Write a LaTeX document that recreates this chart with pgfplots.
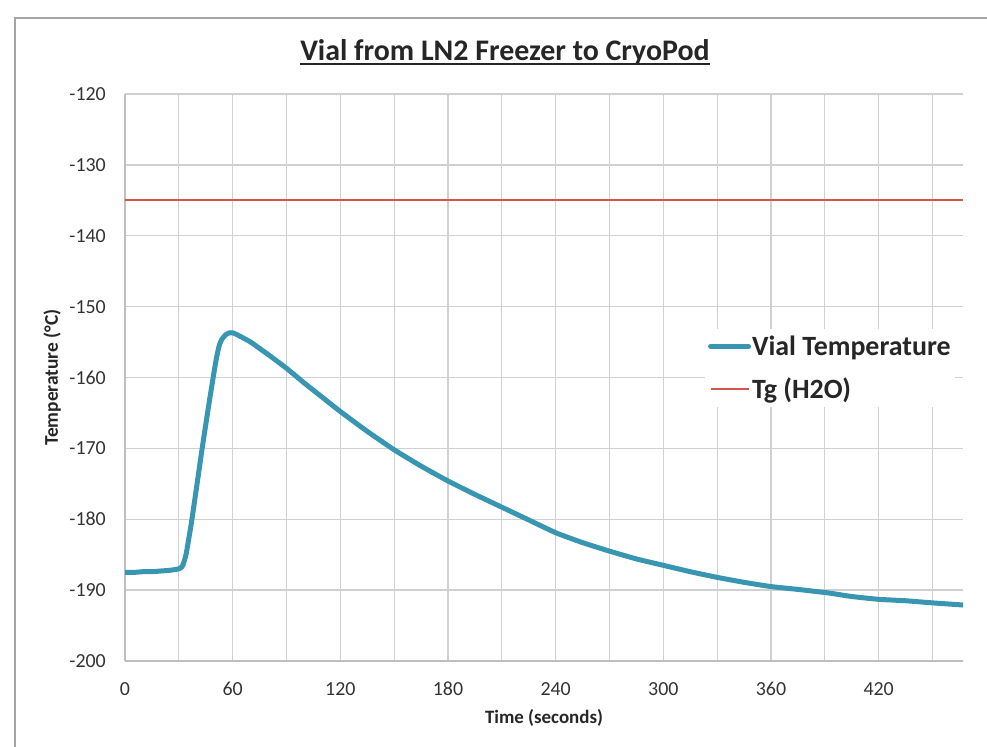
\documentclass[border=0pt]{standalone}
\usepackage{pgfplots}
\pgfplotsset{compat=1.18}
\usepackage{fontspec}
\setmainfont{Carlito}
\definecolor{vial}{RGB}{56,150,178}
\definecolor{tg}{RGB}{212,84,80}
\definecolor{gridc}{RGB}{208,208,208}
\definecolor{axisc}{RGB}{190,190,190}
\definecolor{framec}{RGB}{165,165,165}
\newcommand\ul[1]{\setbox0\hbox{#1}\rlap{\rule[-4.5bp]{\wd0}{1.8bp}}\box0}
\begin{document}
\begin{tikzpicture}
\useasboundingbox (0bp,0bp) rectangle (987bp,747bp);
\draw[framec, line width=2bp] (15bp,0bp) -- (15bp,729bp) -- (987bp,729bp);
\begin{axis}[
  at={(125bp,86bp)}, anchor=south west,
  scale only axis, width=838bp, height=567bp,
  xmin=0, xmax=467, ymin=-200, ymax=-120,
  xtick={0,60,...,420}, minor xtick={30,90,...,450},
  ytick={-200,-190,...,-120},
  grid=major, xminorgrids=true,
  major grid style={gridc, line width=1.3bp},
  minor grid style={gridc, line width=1.3bp},
  axis lines*=left,
  axis line style={axisc, line width=1.3bp, -},
  major tick length=0pt, minor tick length=0pt,
  tick style={draw=none},
  /pgf/number format/assume math mode=true,
  ticklabel style={font=\fontsize{20}{22}\selectfont, text=black!80},
  xticklabel style={inner sep=0pt, anchor=north, yshift=-21bp},
  yticklabel style={inner sep=0pt, anchor=east, xshift=-19bp},
  title={\ul{Vial from LN2 Freezer to CryoPod}},
  title style={at={(axis description cs:0.4535,1)}, anchor=base, yshift=28bp,
    font=\bfseries\fontsize{30}{32}\selectfont, text=black!85},
  xlabel={Time (seconds)},
  xlabel style={at={(axis description cs:0.5,0)}, anchor=center, yshift=-57bp,
    font=\bfseries\fontsize{19}{21}\selectfont, text=black!85},
  ylabel={Temperature (°C)},
  ylabel style={at={(axis description cs:-0.087,0.5)}, anchor=center,
    font=\bfseries\fontsize{19.5}{21}\selectfont, text=black!85},
  legend cell align=left,
  legend image code/.code={\draw[#1] (0bp,0bp) -- (38bp,0bp);},
  legend style={at={(0.692,0.586)}, anchor=north west, draw=none, fill=white,
    font=\bfseries\fontsize{28}{30}\selectfont, text=black!85,
    inner xsep=3bp, inner ysep=5bp, row sep=17bp,
    /tikz/every odd column/.style={column sep=0bp},
    nodes={inner xsep=1bp, inner ysep=2bp}},
]
\addplot[vial, line width=5bp, line join=round, line cap=round, smooth, tension=0.3] coordinates {
(0,-187.5) (5,-187.5) (10,-187.4) (15,-187.4) (20,-187.3) (25,-187.2) (30,-187.0)
(32,-186.6) (34,-185.0) (37,-180.5) (40,-175.3) (43,-170) (46,-165) (49,-160.2)
(51,-157.2) (52.5,-155.5) (54,-154.6) (56,-154.0) (58,-153.7) (60,-153.7) (62,-153.9)
(65,-154.3) (70,-155.0) (75,-155.9) (80,-156.8) (90,-158.7) (100,-160.8) (110,-162.8)
(120,-164.8) (135,-167.6) (150,-170.2) (165,-172.5)
(180,-174.6) (195,-176.5) (210,-178.3) (225,-180.1) (240,-181.9)
(255,-183.3) (270,-184.5) (285,-185.6) (300,-186.5) (315,-187.4) (330,-188.2)
(345,-188.9) (360,-189.5) (375,-189.9) (392,-190.4) (405,-190.9) (420,-191.3)
(435,-191.5) (450,-191.8) (467,-192.1)
};
\addlegendentry{Vial Temperature}
\addplot[tg, line width=2bp] coordinates {(0,-135) (467,-135)};
\addlegendentry{Tg (H2O)}
\end{axis}
\end{tikzpicture}
\end{document}
